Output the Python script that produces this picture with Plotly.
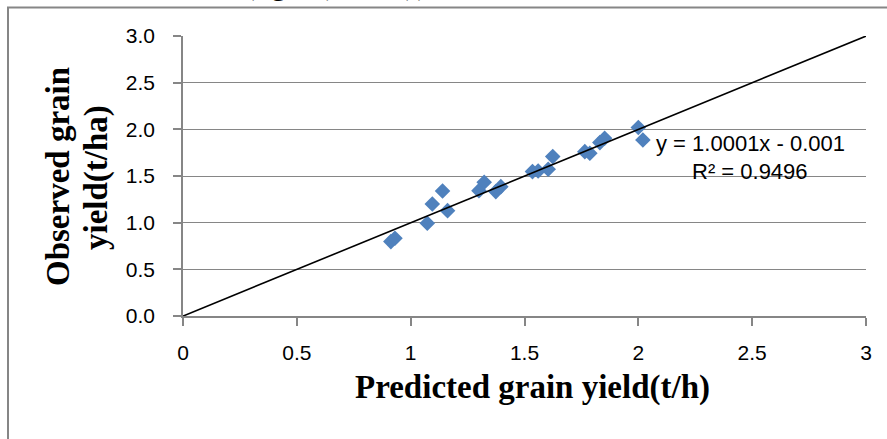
import plotly.graph_objects as go

# ---- data ----
predicted = [0.913, 0.931, 1.073, 1.095, 1.140, 1.162, 1.300, 1.323, 1.374, 1.396,
             1.535, 1.560, 1.604, 1.624, 1.765, 1.787, 1.831, 1.852, 2.000, 2.020]
observed = [0.797, 0.833, 0.993, 1.200, 1.340, 1.129, 1.343, 1.433, 1.333, 1.386,
            1.547, 1.554, 1.572, 1.708, 1.761, 1.743, 1.858, 1.905, 2.020, 1.886]
trend_slope = 1.0001
trend_intercept = -0.001
trend_x = [0, 3]
x_ticks = [0, 0.5, 1, 1.5, 2, 2.5, 3]
y_ticks = [0.0, 0.5, 1.0, 1.5, 2.0, 2.5, 3.0]
equation_text = "y = 1.0001x - 0.001"
r2_text = "R² = 0.9496"
x_title = "Predicted grain yield(t/h)"
y_title_lines = ["Observed grain", "yield(t/ha)"]

# ---- layout geometry ----
W, H = 887, 439
L, R, T, B = 183, 21, 36, 123
PW, PH = W - L - R, H - T - B


def px(x):
    return (x - L) / PW


def py(y):
    return (H - B - y) / PH


GRID = "#868686"
BLUE = "#4F81BD"

fig = go.Figure()
fig.add_trace(go.Scatter(
    x=predicted, y=observed, mode="markers",
    marker=dict(symbol="diamond", size=12, color=BLUE, line=dict(width=0)),
    showlegend=False, hoverinfo="x+y"))
fig.add_trace(go.Scatter(
    x=trend_x, y=[trend_slope * v + trend_intercept for v in trend_x],
    mode="lines", line=dict(color="black", width=1.6),
    showlegend=False, hoverinfo="skip"))

tick_font = dict(family="Liberation Sans, Arial, sans-serif", size=21, color="black")
title_font = dict(family="Liberation Serif, Times New Roman, serif", size=33, color="black")
eq_font = dict(family="Liberation Sans, Arial, sans-serif", size=22, color="black")

fig.update_xaxes(range=[0, 3], tickvals=x_ticks, ticktext=[f"{v:g}" for v in x_ticks],
                 showgrid=False, zeroline=False, showline=True, linecolor=GRID, linewidth=1.5,
                 ticks="outside", ticklen=8, tickcolor=GRID, tickwidth=1.5,
                 tickfont=tick_font, ticklabelstandoff=9)
fig.update_yaxes(range=[0, 3], tickvals=y_ticks, ticktext=[f"{v:.1f}" for v in y_ticks],
                 showgrid=True, gridcolor=GRID, gridwidth=1.2, zeroline=False,
                 showline=True, linecolor=GRID, linewidth=1.5,
                 ticks="outside", ticklen=8, tickcolor=GRID, tickwidth=1.5,
                 tickfont=tick_font, ticklabelstandoff=14)

annotations = [
    dict(text=equation_text, x=px(750), y=py(143), xref="paper", yref="paper",
         showarrow=False, xanchor="center", yanchor="middle", font=eq_font),
    dict(text=r2_text, x=px(750), y=py(171), xref="paper", yref="paper",
         showarrow=False, xanchor="center", yanchor="middle", font=eq_font),
    dict(text=f"<b>{x_title}</b>", x=px(532), y=py(387), xref="paper", yref="paper",
         showarrow=False, xanchor="center", yanchor="middle", font=title_font),
    dict(text=f"<b>{y_title_lines[0]}</b>", x=px(58), y=py(177), xref="paper", yref="paper",
         showarrow=False, xanchor="center", yanchor="middle", textangle=-90, font=title_font),
    dict(text=f"<b>{y_title_lines[1]}</b>", x=px(96), y=py(178), xref="paper", yref="paper",
         showarrow=False, xanchor="center", yanchor="middle", textangle=-90, font=title_font),
    # clipped caption fragments at the top edge
    dict(text="(kg/ha)", x=px(290), y=py(-17), xref="paper", yref="paper",
         showarrow=False, xanchor="center", yanchor="middle",
         font=dict(family="Liberation Serif, Times New Roman, serif", size=32, color="black")),
    dict(text="(t)", x=px(413), y=py(-17), xref="paper", yref="paper",
         showarrow=False, xanchor="center", yanchor="middle",
         font=dict(family="Liberation Serif, Times New Roman, serif", size=32, color="black")),
]

shapes = [
    dict(type="rect", xref="paper", yref="paper",
         x0=px(8), x1=px(W + 20), y0=py(H + 20), y1=py(7.5),
         line=dict(color=GRID, width=2), fillcolor="rgba(0,0,0,0)", layer="below"),
]

fig.update_layout(
    width=W, height=H,
    margin=dict(l=L, r=R, t=T, b=B, pad=0),
    paper_bgcolor="white", plot_bgcolor="white",
    annotations=annotations, shapes=shapes,
    showlegend=False,
)

fig.write_html("out.html", config={"displayModeBar": False},
               post_script="document.body.style.margin='0';document.body.style.overflow='hidden';")
